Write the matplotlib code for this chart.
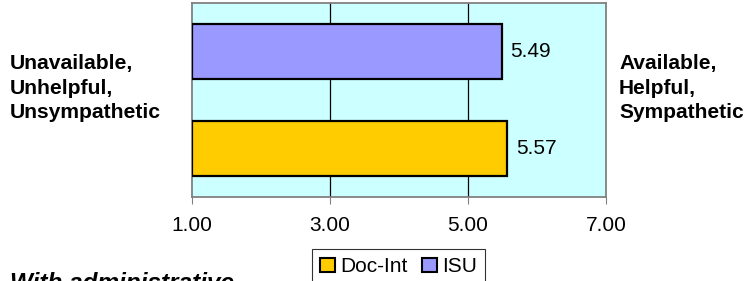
import matplotlib
matplotlib.use("Agg")
import matplotlib.pyplot as plt
from matplotlib.patches import Patch
import numpy as np

# data
categories = ["Doc-Int", "ISU"]
values = [5.57, 5.49]
colors = ["#FFCC00", "#9999FF"]
xticks = [1, 3, 5, 7]

plt.rcParams['font.family'] = ['Liberation Sans', 'DejaVu Sans']

fig = plt.figure(figsize=(7.46, 2.81), dpi=100)
ax = fig.add_axes([192 / 746, 1 - 197 / 281, (606 - 192) / 746, 194 / 281])
ax.set_facecolor("#CCFFFF")

y_pos = np.arange(len(categories))
bars = ax.barh(y_pos, np.array(values) - 1, left=1, height=0.56,
               color=colors, edgecolor="black", linewidth=1.6, zorder=3)
for y, v in zip(y_pos, values):
    ax.annotate(f"{v:.2f}", (v, y), xytext=(6, 0), textcoords="offset points",
                va="center", ha="left", fontsize=15)

ax.set_xlim(1, 7)
ax.set_ylim(-0.5, 1.5)
ax.set_xticks(xticks)
ax.set_xticklabels([f"{t:.2f}" for t in xticks], fontsize=15)
ax.set_yticks([])
ax.tick_params(axis="x", length=5, color="#808080", pad=9)
for t in [3, 5]:
    ax.axvline(t, color="black", linewidth=0.9, zorder=1)
for s in ax.spines.values():
    s.set_color("#808080")
    s.set_linewidth(1.3)

fig.text(10 / 746, 1 - 88 / 281, "Unavailable,\nUnhelpful,\nUnsympathetic",
         fontsize=15.2, fontweight="bold", va="center", ha="left", linespacing=1.38)
fig.text(619 / 746, 1 - 88 / 281, "Available,\nHelpful,\nSympathetic",
         fontsize=15, fontweight="bold", va="center", ha="left", linespacing=1.38)
fig.text(10 / 746, 1 - 272 / 281, "With administrative", fontsize=17.5,
         fontweight="bold", fontstyle="italic", va="top", ha="left")

handles = [Patch(facecolor=c, edgecolor="black", linewidth=1.5) for c in colors]
leg = fig.legend(handles, categories, loc="upper left",
                 bbox_to_anchor=(312 / 746, 1 - 249 / 281), ncol=2,
                 fontsize=15, frameon=True, fancybox=False,
                 handlelength=0.7, handleheight=0.7, handletextpad=0.25,
                 columnspacing=0.7, borderpad=0.4, borderaxespad=0)
leg.get_frame().set_edgecolor("black")
leg.get_frame().set_linewidth(0.8)

plt.savefig("out.png", dpi=100)
